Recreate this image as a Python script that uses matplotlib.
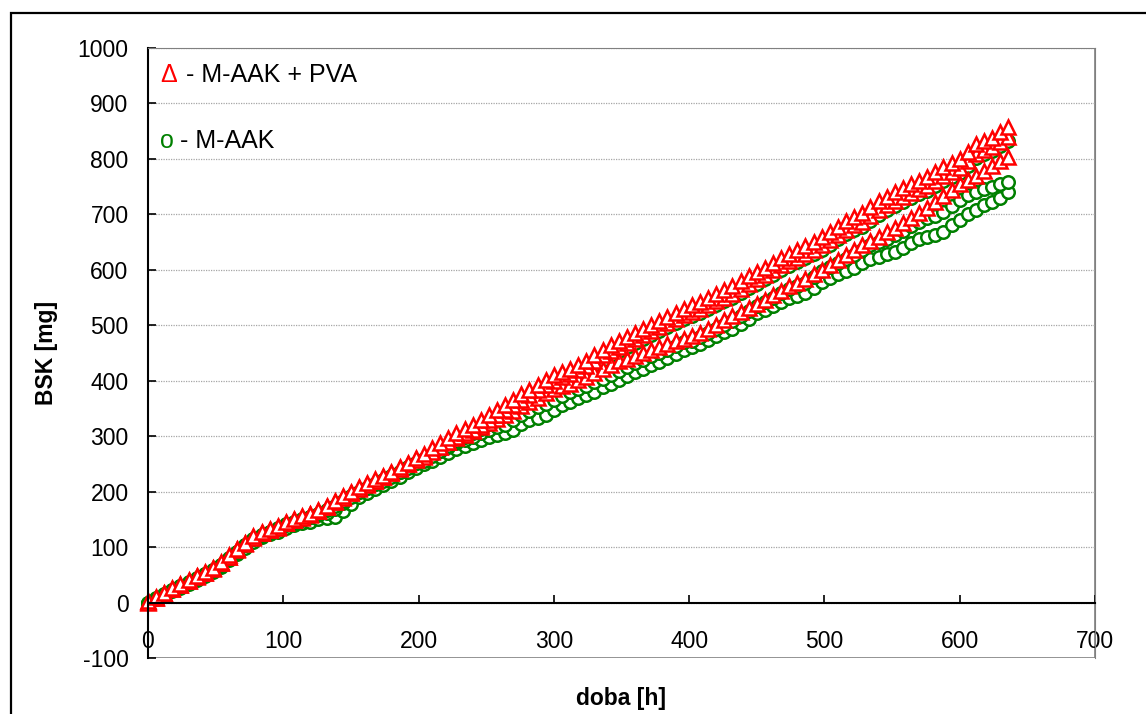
import matplotlib
matplotlib.use("Agg")
from matplotlib import pyplot as plt
from matplotlib.patches import Rectangle

plt.rcParams['font.family'] = ['Liberation Sans', 'DejaVu Sans']
plt.rcParams['axes.unicode_minus'] = False

# sampling times [h]
hours = [0, 6, 12, 18, 24, 30, 36, 42, 48, 54, 60, 66, 72, 78, 84, 90, 96,
         102, 108, 114, 120, 126, 132, 138, 144, 150, 156, 162, 168, 174,
         180, 186, 192, 198, 204, 210, 216, 222, 228, 234, 240, 246, 252,
         258, 264, 270, 276, 282, 288, 294, 300, 306, 312, 318, 324, 330,
         336, 342, 348, 354, 360, 366, 372, 378, 384, 390, 396, 402, 408,
         414, 420, 426, 432, 438, 444, 450, 456, 462, 468, 474, 480, 486,
         492, 498, 504, 510, 516, 522, 528, 534, 540, 546, 552, 558, 564,
         570, 576, 582, 588, 594, 600, 606, 612, 618, 624, 630, 636]

# M-AAK + PVA (red triangles)
pva_1 = [2, 10, 18, 26, 33, 40, 48, 55, 63, 73, 85, 97, 108, 120, 128, 132,
         138, 146, 150, 156, 160, 167, 175, 184, 192, 200, 208, 215, 222,
         229, 236, 244, 252, 260, 268, 278, 288, 297, 306, 313, 320, 329,
         338, 347, 356, 366, 376, 384, 392, 401, 410, 416, 422, 429, 436,
         446, 456, 464, 472, 479, 486, 493, 500, 508, 515, 523, 530, 536,
         542, 549, 556, 563, 570, 579, 588, 596, 604, 613, 622, 629, 636,
         643, 650, 659, 668, 678, 688, 695, 702, 713, 724, 732, 740, 747,
         754, 761, 768, 776, 785, 792, 800, 813, 826, 832, 838, 848, 858]
pva_2 = [0, 8, 16, 25, 31, 39, 46, 54, 61, 71, 82, 95, 106, 117, 125, 130,
         135, 143, 148, 153, 158, 165, 172, 181, 189, 197, 205, 212, 219,
         226, 233, 241, 249, 257, 262, 271, 280, 289, 298, 305, 312, 321,
         330, 339, 347, 357, 366, 375, 383, 392, 400, 407, 413, 420, 427,
         436, 446, 454, 461, 468, 475, 482, 489, 497, 504, 511, 518, 524,
         530, 536, 543, 550, 557, 566, 575, 583, 591, 599, 608, 615, 622,
         629, 636, 644, 653, 663, 672, 680, 687, 697, 708, 716, 724, 731,
         738, 745, 752, 760, 769, 776, 784, 796, 809, 816, 822, 831, 840]
pva_3 = [1, 9, 17, 24, 32, 39, 47, 53, 62, 72, 83, 96, 107, 118, 126, 131,
         137, 144, 149, 155, 159, 166, 173, 182, 190, 198, 206, 213, 220,
         227, 234, 242, 250, 258, 265, 273, 281, 289, 297, 303, 309, 316,
         323, 331, 338, 346, 354, 362, 369, 377, 385, 390, 395, 401, 407,
         414, 422, 429, 435, 440, 445, 450, 455, 461, 466, 471, 476, 481,
         486, 493, 501, 509, 517, 524, 531, 538, 546, 554, 562, 570, 577,
         584, 592, 600, 609, 618, 627, 636, 645, 652, 660, 668, 676, 685,
         694, 703, 712, 722, 733, 744, 754, 762, 770, 779, 788, 796, 804]

# M-AAK (green circles)
aak_1 = [0, 7, 14, 22, 29, 36, 43, 51, 58, 68, 79, 92, 103, 114, 122, 127,
         132, 139, 144, 149, 154, 160, 167, 175, 183, 191, 199, 206, 213,
         220, 227, 235, 243, 251, 256, 265, 274, 283, 291, 298, 305, 313,
         322, 331, 339, 348, 358, 367, 375, 384, 392, 399, 405, 412, 419,
         428, 438, 446, 454, 461, 468, 475, 482, 490, 497, 504, 511, 517,
         523, 529, 536, 543, 550, 558, 567, 575, 583, 591, 600, 607, 614,
         621, 628, 636, 645, 655, 664, 671, 678, 688, 699, 707, 715, 722,
         729, 736, 743, 751, 760, 767, 775, 788, 801, 808, 814, 823, 832]
aak_2 = [0, 8, 15, 22, 29, 37, 44, 51, 58, 68, 80, 92, 104, 114, 122, 128,
         134, 141, 146, 151, 154, 158, 162, 168, 180, 192, 200, 207, 214,
         221, 228, 236, 244, 252, 259, 266, 273, 280, 287, 293, 299, 305,
         311, 316, 321, 329, 338, 346, 352, 358, 366, 373, 379, 385, 391,
         397, 404, 411, 418, 425, 432, 438, 444, 450, 456, 463, 470, 472,
         479, 486, 494, 501, 508, 517, 526, 535, 542, 550, 558, 566, 571,
         577, 587, 597, 605, 613, 620, 627, 636, 644, 650, 656, 662, 670,
         679, 687, 693, 697, 704, 715, 725, 734, 741, 746, 750, 754, 758]
aak_3 = [0, 6, 13, 20, 27, 34, 41, 48, 56, 65, 76, 88, 99, 110, 118, 123,
         128, 135, 140, 144, 146, 150, 153, 155, 165, 178, 190, 198, 205,
         212, 220, 227, 235, 242, 249, 256, 263, 270, 277, 283, 288, 294,
         299, 302, 305, 312, 322, 330, 333, 338, 348, 356, 362, 368, 374,
         379, 388, 394, 401, 409, 416, 422, 428, 434, 441, 448, 455, 460,
         466, 473, 480, 487, 494, 503, 512, 522, 528, 535, 542, 550, 553,
         558, 568, 578, 585, 592, 598, 604, 612, 620, 624, 628, 632, 640,
         648, 655, 660, 662, 668, 680, 690, 700, 708, 716, 722, 730, 741]

red = '#ff0000'
green = '#008000'

fig = plt.figure(figsize=(11.46, 7.14), dpi=100)
ax = fig.add_axes([0.1291, 0.0784, 0.8264, 0.8544])

for series in (aak_3, aak_2, aak_1):
    ax.plot(hours, series, linestyle='none', marker='o', markersize=9,
            markerfacecolor='white', markeredgecolor=green,
            markeredgewidth=1.8, clip_on=False)
for series in (pva_3, pva_2, pva_1):
    ax.plot(hours, series, linestyle='none', marker='^', markersize=10.5,
            markerfacecolor='white', markeredgecolor=red,
            markeredgewidth=1.8, clip_on=False)

ax.set_xlim(0, 700)
ax.set_ylim(-100, 1000)
ax.set_xticks(range(0, 701, 100))
ax.set_yticks(range(-100, 1001, 100))
ax.yaxis.grid(True, color='#a6a6a6', linestyle=(0, (1, 1)), linewidth=0.9)
ax.set_axisbelow(True)

# axis line crossing at y = 0, plot area frame in grey
for side in ('top', 'right'):
    ax.spines[side].set_color('#808080')
ax.spines['left'].set_color('black')
ax.spines['left'].set_linewidth(1.5)
ax.spines['bottom'].set_position(('data', 0))
ax.spines['bottom'].set_linewidth(1.5)
ax.add_patch(Rectangle((0, 0), 1, 1, transform=ax.transAxes, fill=False,
                       edgecolor='#808080', linewidth=1.2, zorder=0.5))

ax.tick_params(axis='x', direction='in', length=6, width=1.2, pad=20,
               labelsize=16.5)
ax.tick_params(axis='y', direction='in', length=6, width=1.2, pad=14,
               labelsize=16.5)

ax.set_ylabel('BSK [mg]', fontsize=16.5, fontweight='bold', labelpad=14)
ax.set_xlabel('doba [h]', fontsize=16.5, fontweight='bold', labelpad=24)

# hand-made legend
ax.text(9, 951, 'Δ', color=red, fontsize=18, va='center', ha='left')
ax.text(28, 951, '- M-AAK + PVA', color='black', fontsize=18, va='center',
        ha='left')
ax.text(9, 832, 'o', color=green, fontsize=18, va='center', ha='left')
ax.text(23.5, 832, '- M-AAK', color='black', fontsize=18, va='center',
        ha='left')

# outer chart frame (cut by the picture edge)
fig.patches.append(Rectangle((11 / 1146, -0.1), 1.2, 1.1 - 13 / 714,
                             transform=fig.transFigure, fill=False,
                             edgecolor='black', linewidth=1.6))

fig.savefig('out.png', dpi=100)
